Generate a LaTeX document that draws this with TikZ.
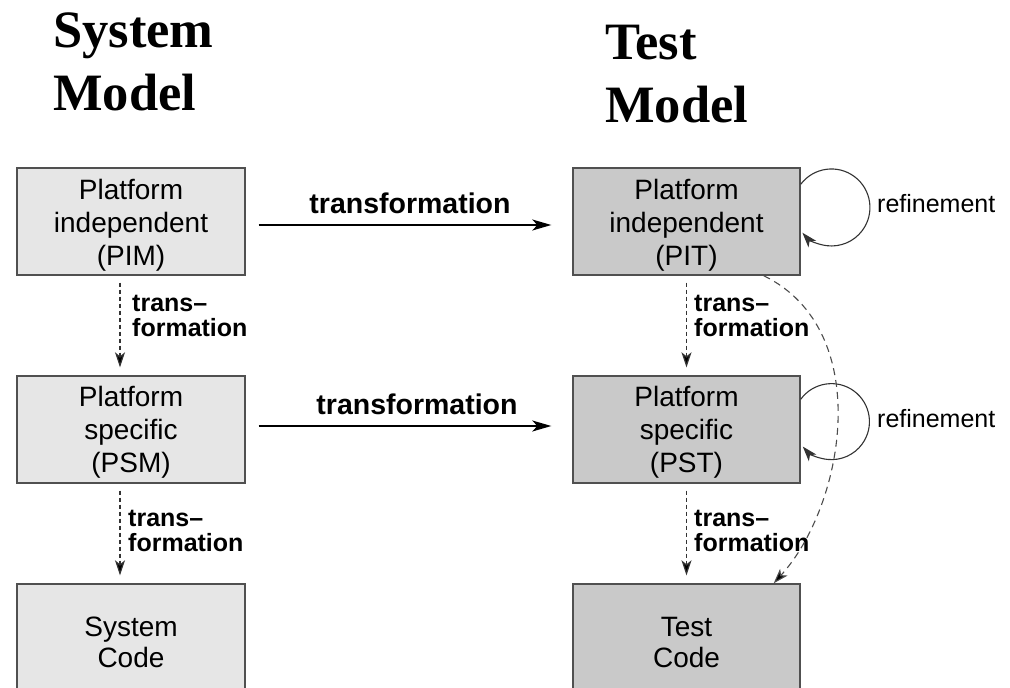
\documentclass[tikz,border=0pt]{standalone}
\usepackage{fontspec}
\setmainfont{Liberation Sans}
\newfontfamily\titlefont{Liberation Serif}
\usetikzlibrary{arrows.meta}
\definecolor{lightbox}{HTML}{E6E6E6}
\definecolor{darkbox}{HTML}{C9C9C9}
\definecolor{edgegray}{HTML}{505050}
\begin{document}
\begin{tikzpicture}[x=1pt,y=-1pt,
  sysbox/.style={draw=edgegray, line width=1.4pt, fill=lightbox, minimum width=228pt, minimum height=107pt, inner sep=0pt},
  testbox/.style={sysbox, fill=darkbox, minimum width=227pt},
  boxtext/.style={align=center, inner sep=0pt, font=\fontsize{28}{33}\selectfont},
  codetext/.style={boxtext, font=\fontsize{28}{31}\selectfont},
  title/.style={anchor=base west, align=left, font=\titlefont\bfseries\fontsize{52.5}{63}\selectfont, inner sep=0pt},
  bigarrow/.style={line width=1.6pt, -{Stealth[length=19pt,width=11pt,inset=5pt]}},
  bigtrans/.style={font=\bfseries\fontsize{28.5}{33}\selectfont, inner sep=0pt},
  downarrow/.style={draw=black!80, line width=1.2pt, dash pattern=on 4pt off 3pt, -{Stealth[length=15pt,width=10pt,inset=4pt,fill=black]}},
  smalltrans/.style={anchor=west, align=left, inner sep=0pt, font=\bfseries\fontsize{25}{25}\selectfont},
  refloop/.style={draw=black!80, line width=1.1pt, -{Stealth[length=15pt,width=10pt,inset=4pt]}},
  reflabel/.style={anchor=west, inner sep=0pt, font=\fontsize{25}{30}\selectfont},
  longdash/.style={draw=black!70, line width=1.1pt, dash pattern=on 7pt off 5pt, -{Stealth[length=15pt,width=10pt,inset=4pt,fill=black]}}
]
\useasboundingbox (0,0) rectangle (1010,688);
\clip (0,0) rectangle (1010,688);

% titles
\node[title] (systitle) at (53,110) {System\\Model};
\node[title] (testtitle) at (605,122) {Test\\Model};

% boxes
\node[sysbox] (pim) at (131,221.5) {};
\node[sysbox] (psm) at (131,429.5) {};
\node[sysbox] (sc)  at (131,637.5) {};
\node[testbox] (pit) at (686.5,221.5) {};
\node[testbox] (pst) at (686.5,429.5) {};
\node[testbox] (tc)  at (686.5,637.5) {};
\node[boxtext] (pimt) at ([yshift=-4pt]pim.center) {Platform\\independent\\(PIM)};
\node[boxtext] (psmt) at ([yshift=-3pt]psm.center) {Platform\\specific\\(PSM)};
\node[codetext] (sct)  at ([yshift=-5pt]sc.center) {System\\Code};
\node[boxtext] (pitt) at ([yshift=-4pt]pit.center) {Platform\\independent\\(PIT)};
\node[boxtext] (pstt) at ([yshift=-3pt]pst.center) {Platform\\specific\\(PST)};
\node[codetext] (tct)  at ([yshift=-5pt]tc.center) {Test\\Code};

% horizontal transformations
\draw[bigarrow, shorten <=13pt, shorten >=21pt] ([yshift=-3.5pt]pim.east) -- ([yshift=-3.5pt]pit.west);
\node[bigtrans] (t1) at (410,203) {transformation};
\draw[bigarrow, shorten <=13pt, shorten >=21pt] ([yshift=3.5pt]psm.east) -- ([yshift=3.5pt]pst.west);
\node[bigtrans] (t2) at (417,404) {transformation};

% vertical transformations
\draw[downarrow, shorten <=7pt, shorten >=8pt] ([xshift=-11pt]pim.south) -- ([xshift=-11pt]psm.north);
\node[smalltrans] (l1) at (132,316) {trans–\\formation};
\draw[downarrow, shorten <=7pt, shorten >=8pt] ([xshift=-11pt]psm.south) -- ([xshift=-11pt]sc.north);
\node[smalltrans] (l2) at (128,531) {trans–\\formation};
\draw[downarrow, shorten <=7pt, shorten >=8pt] (pit.south) -- (pst.north);
\node[smalltrans] (l3) at (694,316) {trans–\\formation};
\draw[downarrow, shorten <=7pt, shorten >=8pt] (pst.south) -- (tc.north);
\node[smalltrans] (l4) at (694,531) {trans–\\formation};

% refinement loops
\draw[refloop] ([yshift=-17pt]pit.north east) arc[start angle=143, end angle=-139, radius=38.5pt];
\node[reflabel] (r1) at (877,204) {refinement};
\draw[refloop] ([yshift=-24pt]pst.north east) arc[start angle=144, end angle=-139, radius=38pt];
\node[reflabel] (r2) at (877,419) {refinement};

% direct PIT -> Test Code
\draw[longdash] ([xshift=-37pt]pit.south east) .. controls (875,330) and (845,505) .. ([xshift=-27pt]tc.north east);
\end{tikzpicture}
\end{document}
